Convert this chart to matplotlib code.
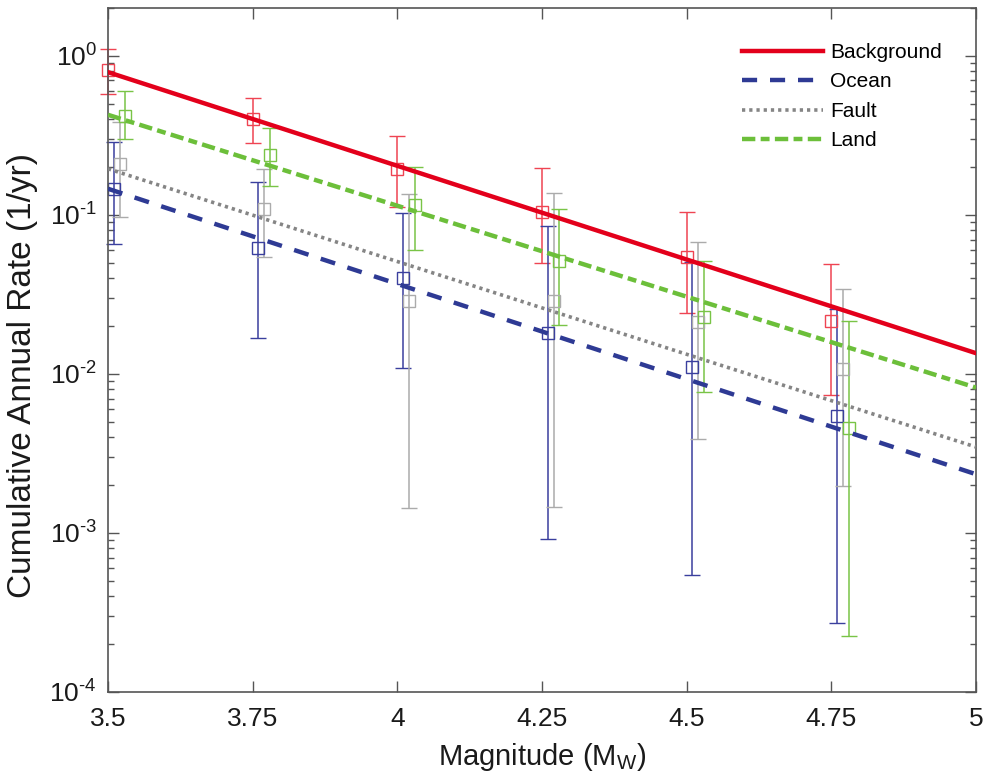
import numpy as np
import matplotlib
matplotlib.use("Agg")
import matplotlib.pyplot as plt
from matplotlib.ticker import LogLocator, NullFormatter, FixedLocator, FuncFormatter

plt.rcParams['font.family'] = ['Liberation Sans', 'DejaVu Sans']
plt.rcParams['mathtext.fontset'] = 'custom'
plt.rcParams['mathtext.rm'] = 'Liberation Sans'
plt.rcParams['mathtext.it'] = 'Liberation Sans:italic'
plt.rcParams['axes.unicode_minus'] = False

# Magnitude bins
magnitudes = [3.5, 3.75, 4.0, 4.25, 4.5, 4.75]

# Observed cumulative annual rates with upper / lower bounds
bg_rate = [0.82, 0.40, 0.195, 0.105, 0.054, 0.0216]
bg_upper = [1.11, 0.544, 0.314, 0.198, 0.105, 0.049]
bg_lower = [0.577, 0.284, 0.112, 0.050, 0.024, 0.0074]

ocean_rate = [0.145, 0.0623, 0.0403, 0.018, 0.0111, 0.00544]
ocean_upper = [0.289, 0.160, 0.1034, 0.085, 0.0508, 0.0255]
ocean_lower = [0.066, 0.0168, 0.0109, 0.00091, 0.000544, 0.000273]

fault_rate = [0.208, 0.109, 0.0288, 0.0288, 0.0212, 0.0107]
fault_upper = [0.381, 0.194, 0.136, 0.138, 0.0676, 0.034]
fault_lower = [0.097, 0.054, 0.00144, 0.00145, 0.0039, 0.00196]

land_rate = [0.42, 0.238, 0.1156, 0.0514, 0.0228, 0.00455]
land_upper = [0.60, 0.354, 0.201, 0.1086, 0.0514, 0.0216]
land_lower = [0.30, 0.152, 0.060, 0.0203, 0.00774, 0.000225]

# Gutenberg-Richter fits evaluated at the ends of the magnitude range
fit_mag = [3.5, 5.0]
bg_fit = [0.79, 0.0135]
ocean_fit = [0.146, 0.00234]
fault_fit = [0.195, 0.00347]
land_fit = [0.426, 0.0082]

xtick_labels = ['3.5', '3.75', '4', '4.25', '4.5', '4.75', '5']

series = [
    dict(name='Background', rate=bg_rate, up=bg_upper, lo=bg_lower, fit=bg_fit,
         line='#E3001B', pt='#EF4452', ls='-', lw=3.2, shift=0.0),
    dict(name='Ocean', rate=ocean_rate, up=ocean_upper, lo=ocean_lower, fit=ocean_fit,
         line='#2E3A94', pt='#3A3F9E', ls=(0, (3.4, 2.9)), lw=3.2, shift=0.01),
    dict(name='Fault', rate=fault_rate, up=fault_upper, lo=fault_lower, fit=fault_fit,
         line='#858585', pt='#ABABAB', ls=(0, (0.9, 1.1)), lw=2.6, shift=0.02),
    dict(name='Land', rate=land_rate, up=land_upper, lo=land_lower, fit=land_fit,
         line='#6CBF3A', pt='#79C446', ls=(0, (3.0, 1.2, 2.0, 1.2)), lw=3.2, shift=0.03),
]

fig = plt.figure(figsize=(9.85, 7.82), dpi=100)
ax = fig.add_axes([0.1096, 0.1151, 0.8813, 0.8747])

mags = np.array(magnitudes)
for s in series:
    r = np.array(s['rate'])
    yerr = np.vstack([r - np.array(s['lo']), np.array(s['up']) - r])
    eb = ax.errorbar(mags + s['shift'], r, yerr=yerr, fmt='s', ms=8.5,
                     mfc='none', mec=s['pt'], mew=1.0, ecolor=s['pt'],
                     elinewidth=1.1, capsize=5.5, capthick=1.1, zorder=2)
    for art in eb.lines[1] + eb.lines[2] + (eb.lines[0],):
        art.set_clip_on(False)

handles = []
for s in series:
    h, = ax.plot(fit_mag, s['fit'], color=s['line'], ls=s['ls'], lw=s['lw'],
                 label=s['name'], zorder=3)
    handles.append(h)


def decade_label(v, pos):
    e = int(round(np.log10(v)))
    sign = r'\text{-}' if e < 0 else ''
    return r'$\mathdefault{10^{%s%d}}$' % (sign, abs(e))


ax.set_yscale('log')
ax.set_xlim(3.5, 5.0)
ax.set_ylim(1e-4, 2)
ax.xaxis.set_major_locator(FixedLocator([3.5, 3.75, 4.0, 4.25, 4.5, 4.75, 5.0]))
ax.set_xticklabels(xtick_labels)
ax.yaxis.set_major_locator(LogLocator(base=10, numticks=10))
ax.yaxis.set_major_formatter(FuncFormatter(decade_label))
ax.yaxis.set_minor_locator(LogLocator(base=10, subs=np.arange(2, 10), numticks=20))
ax.yaxis.set_minor_formatter(NullFormatter())

frame = '#555555'
for sp in ax.spines.values():
    sp.set_color(frame)
    sp.set_linewidth(1.2)
ax.tick_params(which='both', direction='in', top=True, right=True, color=frame,
               width=1.0, labelcolor='#1a1a1a')
ax.tick_params(which='major', length=8, labelsize=19, pad=8)
ax.tick_params(axis='x', which='major', pad=11)
ax.tick_params(which='minor', length=4)

ax.set_xlabel(r'Magnitude (M$_{\mathrm{W}}$)', fontsize=21, color='#1a1a1a', labelpad=7)
ax.set_ylabel('Cumulative Annual Rate (1/yr)', fontsize=24, color='#1a1a1a')
ax.yaxis.set_label_coords(-0.081, 0.462)

leg = ax.legend(handles=handles, loc='upper right', bbox_to_anchor=(0.975, 0.967),
                frameon=False, fontsize=15, handlelength=3.9, handletextpad=0.35,
                labelspacing=0.5, borderaxespad=0.2)

fig.savefig('out.png', dpi=100)
